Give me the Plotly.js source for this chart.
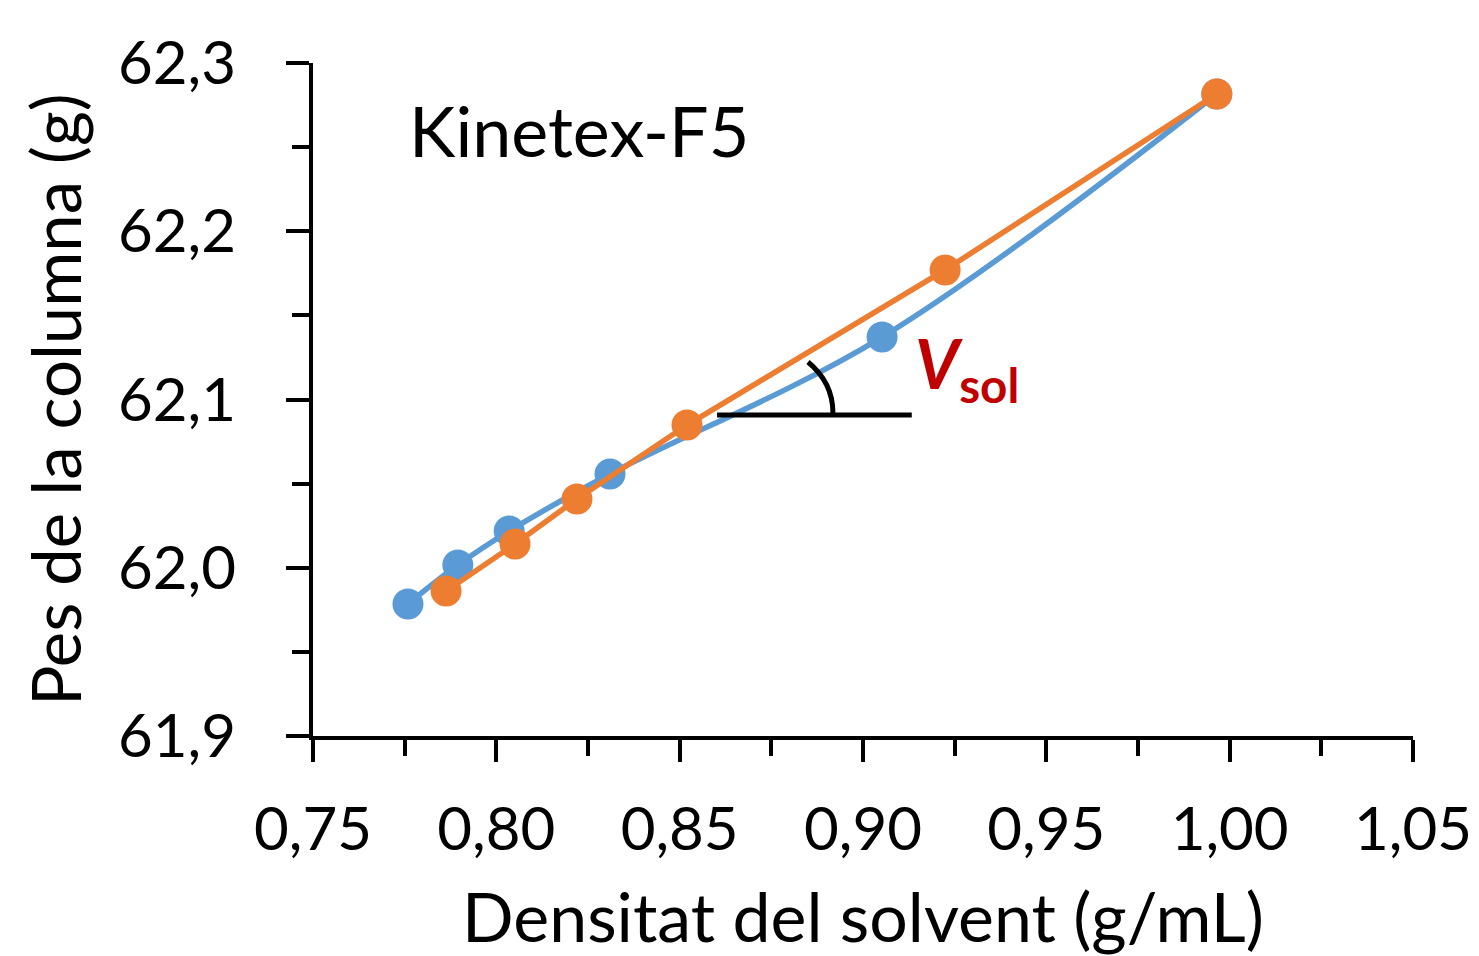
<!DOCTYPE html>
<html>
<head>
<meta charset="utf-8">
<script src="https://cdn.plot.ly/plotly-3.0.1.min.js"></script>
<style>html,body{margin:0;padding:0;background:#fff;}#chart{width:1479px;height:956px;}</style>
</head>
<body>
<div id="chart"></div>
<script>
// Series: blue (smoothed) and orange (straight segments)
var blueX = [0.7759, 0.7895, 0.8035, 0.8310, 0.9052, 0.9965];
var blueY = [61.9785, 62.0016, 62.0218, 62.0557, 62.1371, 62.2816];
var orangeX = [0.7863, 0.8051, 0.8220, 0.8520, 0.9224, 0.9965];
var orangeY = [61.9862, 62.0141, 62.0409, 62.0848, 62.1770, 62.2816];

var xTickVals = [0.75, 0.80, 0.85, 0.90, 0.95, 1.00, 1.05];
var xTickText = ["0,75", "0,80", "0,85", "0,90", "0,95", "1,00", "1,05"];
var yTickVals = [61.9, 62.0, 62.1, 62.2, 62.3];
var yTickText = ["61,9", "62,0", "62,1", "62,2", "62,3"];

var FONT = "Lato, 'Open Sans', sans-serif";

var traces = [
  {x: blueX, y: blueY, mode: 'lines+markers', type: 'scatter',
   line: {color: '#5B9BD5', width: 5.5, shape: 'spline', smoothing: 1},
   marker: {color: '#5B9BD5', size: 31}, hoverinfo: 'x+y', showlegend: false},
  {x: orangeX, y: orangeY, mode: 'lines+markers', type: 'scatter',
   line: {color: '#ED7D31', width: 5.5},
   marker: {color: '#ED7D31', size: 31}, hoverinfo: 'x+y', showlegend: false}
];

var layout = {
  width: 1479, height: 956,
  margin: {l: 313, r: 66, t: 63, b: 220},
  paper_bgcolor: '#ffffff', plot_bgcolor: '#ffffff',
  font: {family: FONT, color: '#000000'},
  showlegend: false,
  xaxis: {
    range: [0.75, 1.05], tickmode: 'array', tickvals: xTickVals, ticktext: xTickText,
    showgrid: false, zeroline: false, showline: true, linecolor: '#000', linewidth: 4,
    ticks: 'outside', ticklen: 22, tickwidth: 4, tickcolor: '#000',
    minor: {tickmode: 'linear', tick0: 0.75, dtick: 0.025, ticks: 'outside', ticklen: 16, tickwidth: 4, tickcolor: '#000'},
    tickfont: {size: 60, family: FONT, color: '#000'}, ticklabelstandoff: 16,
    title: {text: 'Densitat del solvent (g/mL)', font: {size: 68, family: FONT, color: '#000'}},
    automargin: false
  },
  yaxis: {
    range: [61.9, 62.3], tickmode: 'array', tickvals: yTickVals, ticktext: yTickText,
    showgrid: false, zeroline: false, showline: true, linecolor: '#000', linewidth: 4,
    ticks: 'outside', ticklen: 23, tickwidth: 4, tickcolor: '#000',
    minor: {tickmode: 'linear', tick0: 61.9, dtick: 0.05, ticks: 'outside', ticklen: 17, tickwidth: 4, tickcolor: '#000'},
    tickfont: {size: 60, family: FONT, color: '#000'}, ticklabelstandoff: 38,
    title: {text: 'Pes de la columna (g)', standoff: 16, font: {size: 67, family: FONT, color: '#000'}},
    automargin: 'left'
  },
  annotations: [
    {x: 0.7756, y: 62.260, xref: 'x', yref: 'y', xanchor: 'left', yanchor: 'middle',
     text: 'Kinetex-F5', showarrow: false, font: {size: 70, family: FONT, color: '#000'}},
    {x: 0.9135, y: 62.119, xref: 'x', yref: 'y', xanchor: 'left', yanchor: 'middle',
     text: '<b><i>V</i></b><b><sub>sol</sub></b>', showarrow: false,
     font: {size: 68, family: FONT, color: '#C00000'}}
  ],
  shapes: [
    {type: 'line', xref: 'x', yref: 'y', x0: 0.8602, x1: 0.9133, y0: 62.0908, y1: 62.0908,
     line: {color: '#000', width: 5}},
    {type: 'path', xref: 'x', yref: 'y', path: 'M 0.8850 62.1223 Q 0.8918 62.1101 0.8918 62.0920',
     line: {color: '#000', width: 5}}
  ]
};

Plotly.newPlot('chart', traces, layout, {displayModeBar: false, staticPlot: true});
</script>
</body>
</html>
